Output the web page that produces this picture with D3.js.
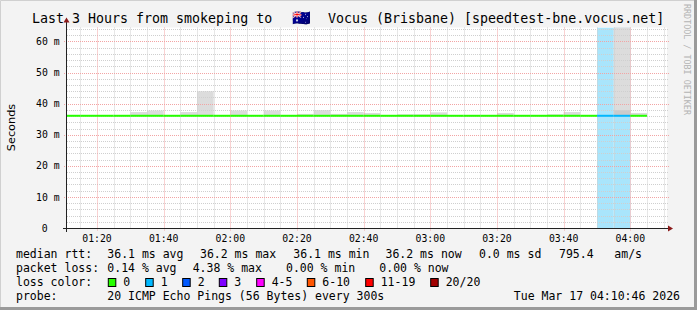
<!DOCTYPE html>
<html><head><meta charset="utf-8">
<script src="https://cdn.jsdelivr.net/npm/d3@7"></script>
<style>
html,body{margin:0;padding:0;background:#f3f3f3;}
svg{display:block;}
</style></head>
<body>
<svg id="chart" width="697" height="310"></svg>
<script>
// ---------- data ----------
const titleParts = ["Last 3 Hours from smokeping to", "🇦🇺", "Vocus (Brisbane) [speedtest-bne.vocus.net]"];
const intervalEnds = ["01:15","01:20","01:25","01:30","01:35","01:40","01:45","01:50","01:55","02:00",
  "02:05","02:10","02:15","02:20","02:25","02:30","02:35","02:40","02:45","02:50",
  "02:55","03:00","03:05","03:10","03:15","03:20","03:25","03:30","03:35","03:40",
  "03:45","03:50","03:55","04:00","04:05"];
const medianRtt = [36.1,36.1,36.1,36.1,36.1,36.1,36.1,36.1,36.1,36.1,
  36.1,36.1,36.1,36.1,36.1,36.1,36.1,36.1,36.1,36.1,
  36.1,36.1,36.1,36.1,36.1,36.1,36.1,36.1,36.1,36.1,
  36.1,36.1,36.1,36.1,36.1];
const smokeMax = [null,null,null,null,37.3,37.8,null,37.3,44.0,null,
  37.8,null,37.8,null,36.7,37.9,36.7,37.3,37.0,null,
  36.6,36.6,37.2,null,null,null,37.0,null,null,36.6,
  37.3,null,null,100,37.0];
const smokeInner = [null,null,null,null,null,null,null,null,null,null,
  null,null,null,null,null,null,null,null,null,null,
  null,null,null,null,null,null,null,null,null,null,
  null,null,null,37.9,null];
const lossCount = [0,0,0,0,0,0,0,0,0,0,0,0,0,0,0,0,0,0,0,0,
  0,0,0,0,0,0,0,0,0,0,0,0,1,1,0];
const xTickLabels = ["01:20","01:40","02:00","02:20","02:40","03:00","03:20","03:40","04:00"];
const yTickValues = [0,10,20,30,40,50,60];
const lossLabels = ["0","1","2","3","4-5","6-10","11-19","20/20"];
const lossColors = ["#26ff00","#00b8ff","#0059ff","#7e00ff","#ff00ff","#ff5500","#ff0000","#a10000"];
const lossBgColors = ["none","#a9e5fc","#a6c0fd","#c8a8fd","#fda8fd","#fdc4a8","#fda8a8","#e0a8a8"];
const statsRtt = ["36.1 ms avg","36.2 ms max","36.1 ms min","36.2 ms now","0.0 ms sd","795.4","am/s"];
const statsLoss = ["0.14 % avg","4.38 % max","0.00 % min","0.00 % now"];
const probeText = "20 ICMP Echo Pings (56 Bytes) every 300s";
const dateText = "Tue Mar 17 04:10:46 2026";

// ---------- helpers ----------
const toMin = s => { const [h,m] = s.split(":").map(Number); return h*60+m; };
const svg = d3.select("#chart");
const W = 697, H = 310;
const L = 67, R = 667, T = 27.5, B = 228;
const x = d3.scaleLinear().domain([71, 251]).range([L, R]);
const y = d3.scaleLinear().domain([0, 64.5]).range([B, T]);
const mono = "'DejaVu Sans Mono', monospace";

// background & frame
svg.append("rect").attr("x",0).attr("y",0).attr("width",W).attr("height",H).attr("fill","#f3f3f3");
svg.append("path").attr("d",`M0.5,${H} V0.5 H${W}`).attr("stroke","#d0d0d0").attr("fill","none").attr("stroke-width",1);
svg.append("path").attr("d",`M0,${H-1.5} H${W-1.5} V0`).attr("stroke","#9a9a9a").attr("fill","none").attr("stroke-width",3);

// canvas
svg.append("rect").attr("x",L).attr("y",T).attr("width",R-L).attr("height",B-T).attr("fill","#ffffff");

svg.append("clipPath").attr("id","pc").append("rect")
  .attr("x",L).attr("y",T).attr("width",R-L).attr("height",B-T);
const plot = svg.append("g").attr("clip-path","url(#pc)");

const iv = intervalEnds.map((e,i)=>({end:toMin(e), i}));
// loss background
plot.selectAll("rect.lossbg").data(iv.filter(d=>lossCount[d.i]>0)).join("rect")
  .attr("x",d=>x(d.end-5)).attr("width",d=>x(d.end)-x(d.end-5))
  .attr("y",T).attr("height",B-T)
  .attr("fill",d=>lossBgColors[Math.min(lossCount[d.i],7)]);
// smoke
plot.selectAll("rect.smoke").data(iv.filter(d=>smokeMax[d.i]!=null)).join("rect")
  .attr("x",d=>x(d.end-5)).attr("width",d=>x(d.end)-x(d.end-5))
  .attr("y",d=>y(smokeMax[d.i])).attr("height",d=>y(medianRtt[d.i])-y(smokeMax[d.i]))
  .attr("fill","#dcdcdc");
plot.selectAll("rect.smoke2").data(iv.filter(d=>smokeInner[d.i]!=null)).join("rect")
  .attr("x",d=>x(d.end-5)).attr("width",d=>x(d.end)-x(d.end-5))
  .attr("y",d=>y(smokeInner[d.i])).attr("height",d=>y(medianRtt[d.i])-y(smokeInner[d.i]))
  .attr("fill","#cbcbcb");

// grid
const minorX = d3.range(75, 251, 5).filter(m=>m%20!==0);
const majorX = xTickLabels.map(toMin);
const minorY = d3.range(2, 65, 2).filter(v=>v%10!==0);
const majorY = yTickValues.filter(v=>v>0);
const g = svg.append("g");
g.selectAll("line.mx").data(minorX).join("line")
  .attr("x1",d=>Math.round(x(d))+0.5).attr("x2",d=>Math.round(x(d))+0.5).attr("y1",T).attr("y2",B)
  .attr("stroke","#cfcfcf").attr("stroke-dasharray","1,1").attr("stroke-width",1);
g.selectAll("line.my").data(minorY).join("line")
  .attr("y1",d=>Math.round(y(d))+0.5).attr("y2",d=>Math.round(y(d))+0.5).attr("x1",L).attr("x2",R+1)
  .attr("stroke","#cfcfcf").attr("stroke-dasharray","1,1").attr("stroke-width",1);
g.selectAll("line.Mx").data(majorX).join("line")
  .attr("x1",d=>Math.round(x(d))+0.5).attr("x2",d=>Math.round(x(d))+0.5).attr("y1",T).attr("y2",B+3)
  .attr("stroke","#f2a4a4").attr("stroke-dasharray","1,1").attr("stroke-width",1);
g.selectAll("line.My").data(majorY).join("line")
  .attr("y1",d=>Math.round(y(d))+0.5).attr("y2",d=>Math.round(y(d))+0.5).attr("x1",L-3).attr("x2",R+3)
  .attr("stroke","#f2a4a4").attr("stroke-dasharray","1,1").attr("stroke-width",1);

// median line, colored by loss
svg.append("g").selectAll("line.med").data(iv).join("line")
  .attr("x1",d=>Math.max(L, x(d.end-5))).attr("x2",d=>x(d.end))
  .attr("y1",d=>y(medianRtt[d.i])).attr("y2",d=>y(medianRtt[d.i]))
  .attr("stroke",d=>lossColors[Math.min(lossCount[d.i],7)]).attr("stroke-width",2);

// axes
svg.append("line").attr("x1",L-4).attr("x2",R+1).attr("y1",B+0.5).attr("y2",B+0.5).attr("stroke","#222").attr("stroke-width",1);
svg.append("line").attr("x1",L-0.5).attr("x2",L-0.5).attr("y1",B+4).attr("y2",T-6).attr("stroke","#222").attr("stroke-width",1);
svg.append("path").attr("d",`M${R+1},${B-2.5} L${R+6},${B+0.5} L${R+1},${B+3.5}Z`).attr("fill","#8b1a1a");
svg.append("path").attr("d",`M${L-3.5},${T-5} L${L-0.5},${T-10} L${L+2.5},${T-5}Z`).attr("fill","#8b1a1a");

// x tick labels
svg.append("g").selectAll("text").data(xTickLabels).join("text")
  .attr("x",d=>x(toMin(d))).attr("y",242).attr("text-anchor","middle")
  .attr("font-family",mono).attr("font-size","9.8px").attr("fill","#000").text(d=>d);
// y tick labels
svg.append("g").selectAll("text").data(yTickValues).join("text")
  .attr("x",d=>d===0?47.6:59.6).attr("y",d=>y(d)+3.6).attr("text-anchor","end")
  .attr("font-family",mono).attr("font-size","9.8px").attr("fill","#000")
  .text(d=>d===0?"0":d+" m");

// axis title
svg.append("text").attr("transform","translate(14.5,127.5) rotate(-90)").attr("text-anchor","middle")
  .attr("font-family","'DejaVu Sans', sans-serif").attr("font-size","11.3px").attr("fill","#000").text("Seconds");

// title
const tt = svg.append("text").attr("y",23).attr("font-family",mono).attr("font-size","13.3px").attr("fill","#000");
tt.append("tspan").attr("x",32).text(titleParts[0] + " ");
tt.append("tspan").attr("x",301.5).attr("text-anchor","middle").attr("font-size","15px").text(titleParts[1]);
tt.append("tspan").attr("x",328).text(titleParts[2]);

// watermark
svg.append("text").attr("transform","translate(684,4) rotate(90)").attr("text-anchor","start")
  .attr("font-family",mono).attr("font-size","8.4px").attr("fill","#b4b4b4").text("RRDTOOL / TOBI OETIKER");

// legend
const lg = svg.append("g").attr("font-family",mono).attr("font-size","11.5px").attr("fill","#000");
const txt = (xx,yy,s)=>lg.append("text").attr("x",xx).attr("y",yy).attr("xml:space","preserve").text(s);
txt(16,258,"median rtt:");
const rttX = [107.3,200,293.3,385.5,479,559,614.3];
statsRtt.forEach((s,i)=>txt(rttX[i],258,s));
txt(16,272,"packet loss:");
const lossX = [107.3,192.7,286,379.3];
statsLoss.forEach((s,i)=>txt(lossX[i],272,s));
txt(16,286,"loss color:");
const boxX = [108.3,145.7,182.7,219.3,256.7,307.3,365.7,430.7];
lossLabels.forEach((s,i)=>{
  lg.append("rect").attr("x",boxX[i]).attr("y",278.5).attr("width",7.5).attr("height",8)
    .attr("fill",lossColors[i]).attr("stroke","#000").attr("stroke-width",1);
  txt(boxX[i]+15,286,s);
});
txt(16,300,"probe:");
txt(107.3,300,probeText);
txt(680,300,dateText).attr("text-anchor","end");
</script>
</body></html>
